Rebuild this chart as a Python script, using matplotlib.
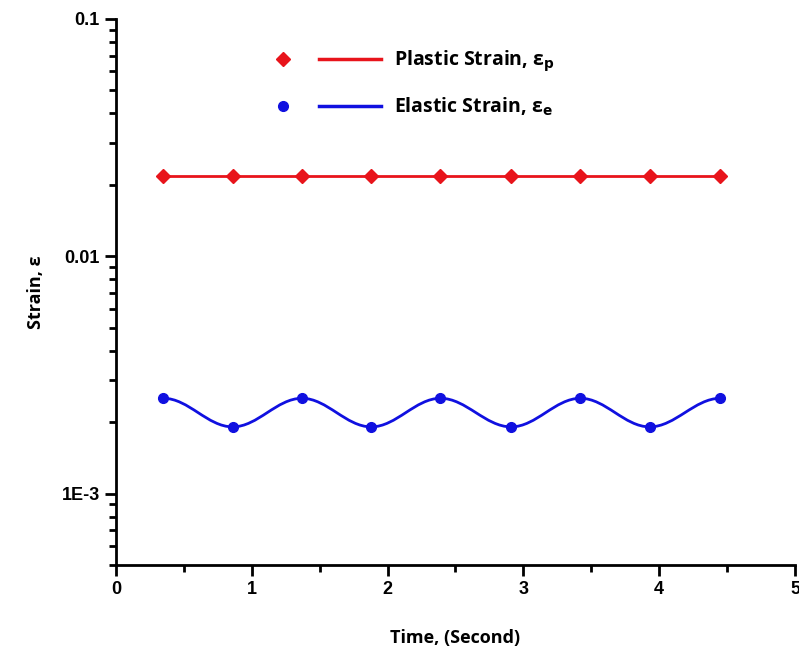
import numpy as np
import matplotlib
matplotlib.use("Agg")
import matplotlib.pyplot as plt
from matplotlib.path import Path
from matplotlib.patches import PathPatch
from matplotlib.lines import Line2D
from matplotlib.legend_handler import HandlerTuple
from matplotlib.ticker import FixedLocator, FixedFormatter, LogLocator, MultipleLocator

# data
time = [0.35, 0.86, 1.37, 1.88, 2.39, 2.91, 3.42, 3.93, 4.45]
plastic = [0.0218] * 9
elastic = [0.00252, 0.00191, 0.00252, 0.00191, 0.00252, 0.00191, 0.00252, 0.00191, 0.00252]
yticks = [1e-3, 1e-2, 1e-1]
yticklabels = ["1E-3", "0.01", "0.1"]
xticks = [0, 1, 2, 3, 4, 5]

plt.rcParams['font.family'] = ['Liberation Sans', 'DejaVu Sans']
plt.rcParams['font.weight'] = 'bold'
plt.rcParams['mathtext.fontset'] = 'dejavusans'

fig = plt.figure(figsize=(7.99, 6.48), dpi=100)
ax = fig.add_axes([0.145, 0.128, 0.85, 0.843])
ax.set_yscale('log')

red = '#e8141b'
blue = '#1010e0'

# plastic strain: straight line with diamonds
ax.plot(time, plastic, color=red, lw=2, zorder=2)
ax.plot(time, plastic, ls='none', marker='D', ms=7, color=red, zorder=3)

# elastic strain: smooth curve (bezier with flat tangents at each point)
verts = [(time[0], elastic[0])]
codes = [Path.MOVETO]
for i in range(len(time) - 1):
    dx = (time[i + 1] - time[i]) / 2.75
    verts += [(time[i] + dx, elastic[i]), (time[i + 1] - dx, elastic[i + 1]), (time[i + 1], elastic[i + 1])]
    codes += [Path.CURVE4] * 3
ax.add_patch(PathPatch(Path(verts, codes), fc='none', ec=blue, lw=2, zorder=2))
ax.plot(time, elastic, ls='none', marker='o', ms=7, color=blue, zorder=3)

ax.set_xlim(0, 5)
ax.set_ylim(5e-4, 0.1)
ax.set_xticks(xticks)
ax.xaxis.set_minor_locator(MultipleLocator(0.5))
ax.yaxis.set_major_locator(FixedLocator(yticks))
ax.yaxis.set_major_formatter(FixedFormatter(yticklabels))
ax.yaxis.set_minor_locator(LogLocator(base=10, subs=np.arange(2, 10)))
ax.yaxis.set_minor_formatter(FixedFormatter([]))

for s in ['top', 'right']:
    ax.spines[s].set_visible(False)
for s in ['left', 'bottom']:
    ax.spines[s].set_linewidth(2)
ax.tick_params(which='major', direction='out', length=8, width=2, labelsize=13)
ax.tick_params(which='minor', direction='out', length=5, width=2)
for lab in ax.get_xticklabels() + ax.get_yticklabels():
    lab.set_fontweight('bold')

ax.set_xlabel('Time, (Second)', fontsize=13, fontweight='bold', family=['Open Sans', 'DejaVu Sans'], labelpad=22)
ax.set_ylabel('Strain, ε', fontsize=13, fontweight='bold', family=['Open Sans', 'DejaVu Sans'], labelpad=12)

# Origin-style legend: symbol, then line, then text
h1 = (Line2D([], [], ls='none', marker='D', ms=7, color=red), Line2D([], [], color=red, lw=2.5))
h2 = (Line2D([], [], ls='none', marker='o', ms=7, color=blue), Line2D([], [], color=blue, lw=2.5))
leg = ax.legend([h1, h2],
                ['Plastic Strain, ε$_\\mathbf{p}$', 'Elastic Strain, ε$_\\mathbf{e}$'],
                handler_map={tuple: HandlerTuple(ndivide=2, pad=0.3)},
                handlelength=6.6, handletextpad=0.7, labelspacing=1.15, frameon=False,
                loc='upper left', bbox_to_anchor=(0.175, 0.978),
                prop={'family': ['Open Sans', 'DejaVu Sans'], 'weight': 'bold', 'size': 14})

fig.savefig('out.png', dpi=100)
